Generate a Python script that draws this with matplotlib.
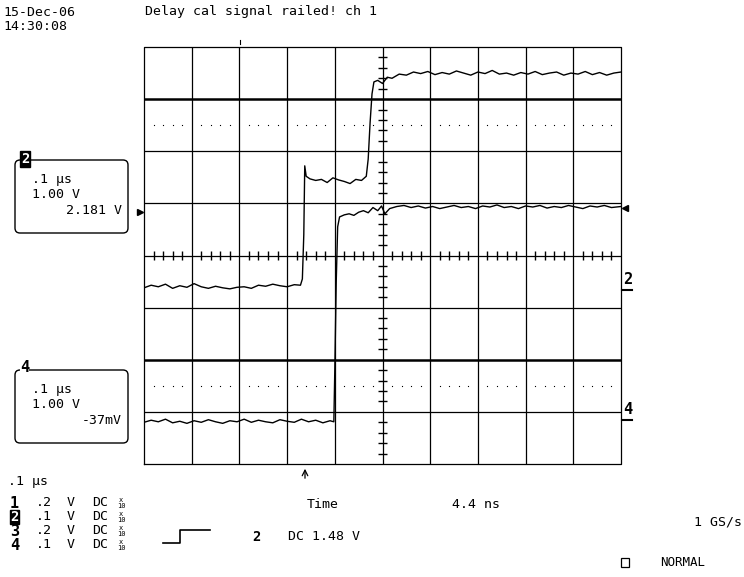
import matplotlib
matplotlib.use("Agg")
import matplotlib.pyplot as plt
from matplotlib.patches import FancyBboxPatch

# scope traces, in screen divisions (x: 0..10, y: -4..4)
ch2_samples = [
    (0.0, -0.62), (0.15, -0.57), (0.3, -0.60), (0.45, -0.55), (0.6, -0.63),
    (0.75, -0.58), (0.9, -0.61), (1.05, -0.54), (1.2, -0.60), (1.35, -0.63),
    (1.5, -0.59), (1.65, -0.62), (1.8, -0.64), (1.95, -0.61), (2.1, -0.60),
    (2.25, -0.63), (2.4, -0.57), (2.55, -0.59), (2.7, -0.55), (2.85, -0.58),
    (3.0, -0.60), (3.15, -0.56), (3.28, -0.57),
    (3.32, -0.45), (3.35, 0.40), (3.37, 1.72), (3.40, 1.52),
    (3.48, 1.47), (3.6, 1.44), (3.72, 1.46), (3.84, 1.40), (3.96, 1.49),
    (4.08, 1.45), (4.2, 1.42), (4.32, 1.38), (4.44, 1.46), (4.56, 1.44),
    (4.66, 1.52),
    (4.70, 1.85), (4.74, 2.55), (4.78, 3.10), (4.82, 3.33),
    (4.9, 3.36), (5.0, 3.30), (5.1, 3.42), (5.2, 3.40), (5.35, 3.48),
    (5.5, 3.46), (5.65, 3.52), (5.8, 3.49), (5.95, 3.53), (6.1, 3.47),
    (6.25, 3.51), (6.4, 3.48), (6.55, 3.54), (6.7, 3.50), (6.85, 3.46),
    (7.0, 3.52), (7.15, 3.49), (7.3, 3.55), (7.45, 3.48), (7.6, 3.50),
    (7.75, 3.46), (7.9, 3.51), (8.05, 3.48), (8.2, 3.53), (8.35, 3.47),
    (8.5, 3.50), (8.65, 3.52), (8.8, 3.46), (8.95, 3.50), (9.1, 3.48),
    (9.25, 3.53), (9.4, 3.47), (9.55, 3.51), (9.7, 3.46), (9.85, 3.50),
    (10.0, 3.52),
]
ch4_samples = [
    (0.0, -3.20), (0.15, -3.16), (0.3, -3.19), (0.45, -3.14), (0.6, -3.21),
    (0.75, -3.18), (0.9, -3.22), (1.05, -3.17), (1.2, -3.20), (1.35, -3.15),
    (1.5, -3.19), (1.65, -3.22), (1.8, -3.17), (1.95, -3.19), (2.1, -3.14),
    (2.25, -3.20), (2.4, -3.16), (2.55, -3.19), (2.7, -3.21), (2.85, -3.15),
    (3.0, -3.18), (3.15, -3.20), (3.3, -3.14), (3.45, -3.19), (3.6, -3.16),
    (3.75, -3.21), (3.9, -3.17), (3.98, -3.19),
    (4.00, -2.20), (4.03, -0.50), (4.06, 0.55), (4.10, 0.74),
    (4.2, 0.78), (4.3, 0.80), (4.4, 0.77), (4.5, 0.83), (4.6, 0.86),
    (4.7, 0.82), (4.8, 0.92), (4.9, 0.86), (4.98, 0.95), (5.05, 0.80),
    (5.15, 0.90), (5.3, 0.94), (5.45, 0.96), (5.6, 0.92), (5.75, 0.95),
    (5.9, 0.91), (6.05, 0.94), (6.2, 0.90), (6.35, 0.93), (6.5, 0.96),
    (6.65, 0.92), (6.8, 0.94), (6.95, 0.90), (7.1, 0.95), (7.25, 0.93),
    (7.4, 0.97), (7.55, 0.92), (7.7, 0.94), (7.85, 0.90), (8.0, 0.95),
    (8.15, 0.93), (8.3, 0.96), (8.45, 0.91), (8.6, 0.94), (8.75, 0.92),
    (8.9, 0.96), (9.05, 0.93), (9.2, 0.90), (9.35, 0.95), (9.5, 0.93),
    (9.65, 0.96), (9.8, 0.92), (10.0, 0.94),
]
ch2_t, ch2_v = zip(*ch2_samples)
ch4_t, ch4_v = zip(*ch4_samples)

# readout text
channel_ids = ["1", "2", "3", "4"]
channel_scales = [".2", ".1", ".2", ".1"]
box2_lines = [".1 μs", "1.00 V", "2.181 V"]
box4_lines = [".1 μs", "1.00 V", "-37mV"]

W, H = 744, 577
fig = plt.figure(figsize=(W / 100, H / 100), dpi=100, facecolor="white")

# graticule axes (pixel box 144..621 x 47..464)
gx0, gx1, gy0, gy1 = 144, 621, 47, 464
ax = fig.add_axes([gx0 / W, 1 - gy1 / H, (gx1 - gx0) / W, (gy1 - gy0) / H])
ax.set_xlim(0, 10)
ax.set_ylim(-4, 4)
ax.set_axis_off()

thin, thick = 0.9, 1.8
for x in range(1, 10):
    ax.axvline(x, color="black", lw=thin)
for y in range(-3, 4):
    ax.axhline(y, color="black", lw=thick if y in (3, -2) else thin)
# outer frame
ax.plot([0, 10, 10, 0, 0], [-4, -4, 4, 4, -4], color="black", lw=thin, clip_on=False)

# centre line ticks
minor = [i / 5 for i in range(1, 50) if i % 5]
ax.vlines(minor, -0.08, 0.08, color="black", lw=1.0)
minor_y = [i / 5 - 4 for i in range(1, 40) if i % 5]
ax.hlines(minor_y, 4.9, 5.1, color="black", lw=1.0)

# dotted reference lines
ax.plot(minor, [2.5] * len(minor), ls="none", marker="s", ms=0.8, mew=0, color="black")
ax.plot(minor, [-2.5] * len(minor), ls="none", marker="s", ms=0.8, mew=0, color="black")

# traces
ax.plot(ch2_t, ch2_v, color="black", lw=1.0)
ax.plot(ch4_t, ch4_v, color="black", lw=1.0)

# overlay in pixel coordinates for annotations
ov = fig.add_axes([0, 0, 1, 1], facecolor="none")
ov.set_xlim(0, W)
ov.set_ylim(H, 0)
ov.set_axis_off()

mono = dict(family="DejaVu Sans Mono", fontsize=9.5, color="black", va="center")

ov.text(3, 12, "15-Dec-06", **mono)
ov.text(3, 27, "14:30:08", **mono)
ov.text(145, 12, "Delay cal signal railed! ch 1", **mono)
ov.plot([240, 240], [40, 44], color="black", lw=0.8)

# level markers
ov.plot([140], [212], marker=">", ms=5, color="black")
ov.plot([625], [208], marker="<", ms=5, color="black")
ov.text(623, 280, "2", fontsize=11, fontweight="bold", va="center", family="DejaVu Sans Mono")
ov.plot([622, 632], [290, 290], color="black", lw=1.5)
ov.text(623, 410, "4", fontsize=11, fontweight="bold", va="center", family="DejaVu Sans Mono")
ov.plot([622, 632], [420, 420], color="black", lw=1.5)

# trigger position arrow
ov.annotate("", xy=(305, 466), xytext=(305, 481),
            arrowprops=dict(arrowstyle="->", color="black", lw=0.9))

# channel readout boxes
for top, lines, label in [(160, box2_lines, "2"), (370, box4_lines, "4")]:
    ov.add_patch(FancyBboxPatch((15, top), 113, 73,
                                boxstyle="round,pad=0,rounding_size=5",
                                fc="none", ec="black", lw=1.0))
    ov.text(32, top + 19, lines[0], **mono)
    ov.text(32, top + 34, lines[1], **mono)
    ov.text(122, top + 51, lines[2], ha="right", **mono)
    if label == "2":
        ov.text(21, top - 1, label, fontsize=10, fontweight="bold", color="white",
                va="center", family="DejaVu Sans Mono",
                bbox=dict(boxstyle="square,pad=0.05", fc="black", ec="black"))
    else:
        ov.text(20, top - 2, label, fontsize=11, fontweight="bold",
                va="center", family="DejaVu Sans Mono",
                bbox=dict(boxstyle="square,pad=0.02", fc="white", ec="none"))

# bottom readout
ov.text(8, 481, ".1 μs", **mono)
row_y = [503, 517, 531, 545]
for cid, scale, y in zip(channel_ids, channel_scales, row_y):
    if cid == "2":
        ov.text(10, y, cid, fontsize=10, fontweight="bold", color="white",
                va="center", family="DejaVu Sans Mono",
                bbox=dict(boxstyle="square,pad=0.02", fc="black", ec="black"))
    else:
        ov.text(10, y, cid, fontsize=11, fontweight="bold", va="center",
                family="DejaVu Sans Mono")
    ov.text(36, y, scale, **mono)
    ov.text(67, y, "V", **mono)
    ov.text(92, y, "DC", **mono)
    ov.text(119, y - 3, "x", fontsize=5, va="center", family="DejaVu Sans Mono")
    ov.text(117, y + 3, "10", fontsize=5, va="center", family="DejaVu Sans Mono")

ov.text(307, 505, "Time", **mono)
ov.text(452, 505, "4.4 ns", **mono)
ov.text(742, 522, "1 GS/s", ha="right", **mono)

# trigger slope symbol
ov.plot([163, 180, 180, 210], [543, 543, 530, 530], color="black", lw=1.2)
ov.text(252, 537, "2", fontsize=10, fontweight="bold", va="center", family="DejaVu Sans Mono")
ov.text(288, 537, "DC 1.48 V", **mono)

ov.add_patch(plt.Rectangle((621, 558), 8, 9, fc="none", ec="black", lw=0.9))
ov.text(660, 563, "NORMAL", family="DejaVu Sans Mono", fontsize=9, va="center")

fig.savefig("out.png", dpi=100, facecolor="white")
